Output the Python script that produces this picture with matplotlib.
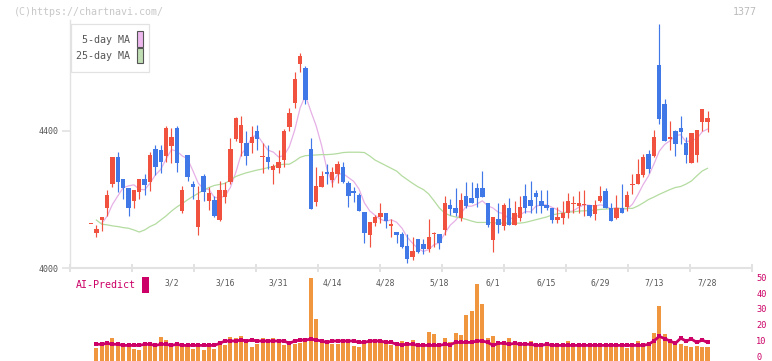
import numpy as np
import pandas as pd
import matplotlib
matplotlib.use("Agg")
import matplotlib.pyplot as plt
from matplotlib.patches import Rectangle
import matplotlib.transforms as mtransforms

plt.rcParams['font.family'] = ['DejaVu Sans Mono']

# ---------------- data ----------------
date_labels = ['3/2', '3/16', '3/31', '4/14', '4/28', '5/18', '6/1', '6/15', '6/29', '7/13', '7/28']
date_label_idx = [15, 25, 35, 45, 55, 65, 75, 85, 95, 105, 115]

opens = [4127, 4103, 4140, 4176, 4246, 4324, 4260, 4234, 4197, 4223,
         4260, 4252, 4347, 4345, 4328, 4356, 4410, 4167, 4330, 4244,
         4119, 4269, 4197, 4199, 4140, 4208, 4252, 4377, 4366, 4366,
         4364, 4401, 4323, 4325, 4286, 4293, 4315, 4413, 4483, 4596,
         4584, 4347, 4194, 4237, 4281, 4257, 4274, 4295, 4247, 4226,
         4213, 4164, 4097, 4132, 4148, 4161, 4124, 4105, 4099, 4064,
         4033, 4085, 4070, 4056, 4098, 4099, 4111, 4183, 4174, 4145,
         4210, 4205, 4233, 4233, 4189, 4082, 4142, 4124, 4174, 4126,
         4145, 4210, 4199, 4218, 4196, 4184, 4176, 4140, 4147, 4160,
         4186, 4182, 4183, 4184, 4158, 4197, 4225, 4176, 4147, 4176,
         4177, 4243, 4244, 4272, 4333, 4327, 4593, 4479, 4378, 4400,
         4410, 4364, 4307, 4330, 4427, 4427]
highs = [4128, 4126, 4149, 4228, 4324, 4339, 4260, 4234, 4228, 4260,
         4274, 4339, 4359, 4359, 4415, 4408, 4415, 4239, 4330, 4254,
         4239, 4274, 4237, 4210, 4254, 4252, 4380, 4441, 4444, 4400,
         4415, 4418, 4364, 4359, 4304, 4345, 4406, 4466, 4571, 4627,
         4590, 4379, 4296, 4283, 4303, 4296, 4312, 4309, 4254, 4237,
         4220, 4164, 4133, 4155, 4189, 4161, 4142, 4105, 4104, 4099,
         4090, 4085, 4085, 4142, 4106, 4099, 4210, 4201, 4233, 4218,
         4252, 4252, 4247, 4283, 4189, 4148, 4191, 4191, 4204, 4196,
         4210, 4245, 4254, 4228, 4228, 4228, 4176, 4177, 4196, 4220,
         4210, 4225, 4228, 4184, 4199, 4239, 4234, 4191, 4213, 4245,
         4226, 4274, 4318, 4333, 4345, 4403, 4712, 4493, 4429, 4403,
         4444, 4383, 4393, 4403, 4464, 4458]
lows = [4127, 4091, 4109, 4152, 4236, 4222, 4202, 4152, 4176, 4202,
        4213, 4225, 4272, 4277, 4309, 4307, 4280, 4160, 4254, 4201,
        4096, 4197, 4169, 4148, 4138, 4189, 4245, 4371, 4328, 4301,
        4337, 4345, 4278, 4288, 4244, 4278, 4294, 4401, 4466, 4571,
        4479, 4173, 4182, 4237, 4245, 4237, 4247, 4247, 4177, 4194,
        4167, 4074, 4062, 4123, 4132, 4118, 4091, 4074, 4058, 4014,
        4023, 4043, 4041, 4048, 4062, 4055, 4096, 4155, 4152, 4137,
        4174, 4189, 4179, 4208, 4121, 4048, 4103, 4111, 4126, 4126,
        4137, 4161, 4160, 4161, 4160, 4169, 4132, 4131, 4128, 4147,
        4161, 4160, 4152, 4148, 4140, 4194, 4176, 4138, 4142, 4161,
        4167, 4216, 4244, 4267, 4278, 4323, 4420, 4372, 4345, 4328,
        4362, 4307, 4307, 4310, 4401, 4398]
closes = [4128, 4114, 4149, 4213, 4324, 4252, 4234, 4176, 4228, 4260,
          4243, 4330, 4296, 4310, 4410, 4382, 4307, 4228, 4267, 4237,
          4199, 4223, 4220, 4153, 4228, 4228, 4347, 4437, 4418, 4327,
          4382, 4378, 4324, 4310, 4298, 4310, 4401, 4453, 4552, 4620,
          4491, 4173, 4239, 4269, 4274, 4281, 4303, 4252, 4211, 4218,
          4167, 4103, 4133, 4148, 4160, 4138, 4125, 4097, 4062, 4026,
          4050, 4048, 4055, 4090, 4099, 4074, 4189, 4172, 4161, 4199,
          4181, 4189, 4204, 4208, 4126, 4148, 4126, 4184, 4126, 4160,
          4177, 4176, 4181, 4208, 4182, 4174, 4140, 4148, 4161, 4196,
          4191, 4191, 4184, 4153, 4184, 4210, 4176, 4138, 4174, 4161,
          4213, 4245, 4274, 4325, 4288, 4383, 4435, 4372, 4379, 4362,
          4398, 4330, 4393, 4403, 4464, 4437]
ma25 = [None, 4140, 4128, 4126, 4123, 4121, 4118, 4116, 4111, 4105,
        4111, 4121, 4128, 4140, 4152, 4166, 4178, 4188, 4199, 4209,
        4218, 4228, 4235, 4241, 4244, 4247, 4257, 4267, 4273, 4278,
        4282, 4286, 4289, 4293, 4296, 4301, 4303, 4303, 4312, 4323,
        4328, 4329, 4330, 4331, 4331, 4332, 4334, 4337, 4338, 4338,
        4338, 4337, 4327, 4315, 4307, 4299, 4291, 4283, 4269, 4258,
        4247, 4237, 4229, 4216, 4196, 4175, 4160, 4153, 4149, 4146,
        4142, 4137, 4133, 4133, 4133, 4132, 4131, 4131, 4131, 4131,
        4131, 4133, 4137, 4141, 4145, 4149, 4155, 4158, 4161, 4163,
        4164, 4166, 4167, 4168, 4169, 4171, 4172, 4173, 4174, 4174,
        4174, 4174, 4181, 4190, 4200, 4207, 4215, 4222, 4229, 4235,
        4238, 4245, 4254, 4269, 4283, 4291]
volume = [None, 5.2, 6.4, 9.8, 11.7, 7.3, 6.4, 6.4, 4.7, 4.1,
          6.9, 6.9, 5.6, 12.3, 10.4, 5.6, 7.3, 6.9, 6.9, 4.7,
          5.6, 3.7, 6.4, 4.7, 7.9, 6.9, 12.3, 11.5, 13.0, 8.5,
          5.6, 7.9, 11.7, 8.5, 11.7, 8.5, 6.9, 7.3, 7.9, 8.5,
          11.7, 49.7, 23.7, 9.8, 7.7, 7.7, 7.7, 8.5, 9.8, 6.4,
          6.0, 7.9, 9.8, 9.8, 9.0, 8.5, 7.3, 6.4, 9.8, 9.0,
          10.4, 5.6, 7.3, 15.5, 14.2, 7.3, 11.7, 9.0, 14.9, 13.6,
          26.3, 28.8, 45.9, 33.2, 11.7, 13.0, 7.3, 7.3, 11.7, 9.0,
          7.3, 7.3, 9.8, 7.3, 7.3, 7.3, 7.3, 7.3, 7.3, 9.8,
          5.6, 7.3, 7.3, 7.3, 7.3, 7.3, 7.3, 7.3, 5.6, 5.6,
          5.2, 8.5, 9.8, 7.3, 8.5, 14.9, 32.0, 14.2, 8.5, 7.3,
          7.9, 6.4, 6.0, 6.4, 6.0, 5.6]
ai_predict = [None, 7.6, 7.6, 8.2, 7.6, 7.6, 6.9, 6.9, 6.9, 6.9,
              7.6, 7.6, 6.9, 7.6, 7.6, 6.9, 7.6, 6.9, 6.9, 6.9,
              6.9, 6.9, 6.9, 6.9, 8.2, 9.7, 9.7, 9.7, 10.3, 9.7,
              10.3, 9.7, 9.7, 9.7, 9.7, 9.7, 9.7, 8.2, 9.7, 10.3,
              10.3, 10.9, 10.3, 9.7, 8.8, 9.7, 9.7, 9.7, 9.7, 9.7,
              8.8, 8.8, 9.7, 9.7, 9.7, 8.8, 8.8, 7.6, 7.3, 7.6,
              7.6, 6.9, 6.9, 6.9, 6.9, 6.9, 7.6, 7.3, 8.8, 8.8,
              8.8, 8.8, 9.7, 9.7, 8.8, 6.9, 8.2, 8.2, 7.6, 8.2,
              7.6, 7.6, 7.6, 6.9, 6.9, 7.6, 6.9, 6.9, 6.9, 6.9,
              6.9, 6.9, 6.9, 6.9, 6.9, 6.9, 6.9, 6.9, 6.9, 6.9,
              6.9, 6.9, 6.9, 6.9, 7.6, 9.7, 12.6, 11.2, 9.7, 8.2,
              11.4, 9.7, 10.9, 8.8, 10.3, 8.8]

# ---------------- style ----------------
RED = '#F0523F'
BLUE = '#4178E8'
PINK = '#E6B0E6'
GREEN = '#B4DCA0'
ORANGE = '#F0963F'
CRIMSON = '#CC0066'
AXIS_GRAY = '#E2E2E2'
TEXT_GRAY = '#555555'

W, H = 772, 361
fig = plt.figure(figsize=(W / 100, H / 100), dpi=100)


def fx(px):
    return px / W


def fy(py):
    return 1 - py / H


X0, X1 = -3.92, 123.3

# ---------------- main price panel ----------------
ax = fig.add_axes([fx(70), fy(268), fx(752) - fx(70), fy(20) - fy(268)])
ax.set_xlim(X0, X1)
ax.set_ylim(4000, 4724)

o = np.array(opens, float)
c = np.array(closes, float)
h = np.array(highs, float)
l = np.array(lows, float)
x = np.arange(len(o))

ma5 = pd.Series(c).rolling(5, min_periods=1).mean().to_numpy()
ax.plot(x[2:], ma5[2:], color=PINK, lw=0.9, zorder=1)
ax.plot(x, np.array(ma25, dtype=float), color=GREEN, lw=0.9, zorder=1)

cols = np.where(c >= o, RED, BLUE)
ax.vlines(x, l, h, colors=cols, lw=0.85, zorder=2)
body_bottom = np.minimum(o, c)
body_h = np.maximum(np.abs(c - o), 3.0)
ax.bar(x, body_h, bottom=body_bottom, width=0.82, color=cols, linewidth=0, zorder=3)

for s in ['top', 'right']:
    ax.spines[s].set_visible(False)
ax.spines['left'].set_color(AXIS_GRAY)
ax.spines['left'].set_linewidth(1.0)
ax.spines['bottom'].set_color(AXIS_GRAY)
ax.spines['bottom'].set_linewidth(1.5)

ax.set_xticks(np.linspace(X0, X1, 12))
ax.set_xticklabels([])
ax.tick_params(axis='x', direction='inout', length=6, width=1.4, color=AXIS_GRAY)
ax.set_yticks([4000, 4400])
ax.set_yticklabels(['4000', '4400'])
ax.tick_params(axis='y', direction='out', length=6, width=1.2, color=AXIS_GRAY,
               labelsize=6, labelcolor=TEXT_GRAY, pad=2)

trans = mtransforms.blended_transform_factory(ax.transData, fig.transFigure)
for pos, lab in zip(date_label_idx, date_labels):
    ax.text(pos, fy(282.5), lab, transform=trans, ha='center', va='center',
            fontsize=5.8, color=TEXT_GRAY, clip_on=False)

# ---------------- lower panel (volume + AI-Predict) ----------------
zero_px = 356.3
v0 = -(361 - zero_px) / 1.58
v1 = (zero_px - 272) / 1.58
ax2 = fig.add_axes([fx(70), 0, fx(752) - fx(70), fy(272)])
ax2.set_xlim(X0, X1)
ax2.set_ylim(v0, v1)
vol = np.array(volume, dtype=float)
ax2.bar(x, vol - v0, bottom=v0, width=0.75, color=ORANGE, linewidth=0, zorder=1)
ax2.plot(x, np.array(ai_predict, dtype=float), color=CRIMSON, lw=2.0,
         marker='s', ms=2.6, markeredgewidth=0, zorder=2)
for s in ax2.spines.values():
    s.set_visible(False)
ax2.set_xticks([])
ax2.yaxis.tick_right()
ax2.set_yticks([0, 10, 20, 30, 40, 50])
ax2.tick_params(axis='y', length=0, labelsize=6.2, labelcolor=CRIMSON, pad=3)
ax2.patch.set_alpha(0)

fig.text(fx(76), fy(285), 'AI-Predict', color=CRIMSON, fontsize=7.2,
         ha='left', va='center')
fig.add_artist(Rectangle((fx(142), fy(293)), fx(7), (293 - 277) / H,
                         transform=fig.transFigure, facecolor=CRIMSON, edgecolor='none'))

# ---------------- legend box ----------------
fig.add_artist(Rectangle((fx(70.5), fy(71.5)), fx(78), (71.5 - 24) / H,
                         transform=fig.transFigure, facecolor='white',
                         edgecolor=AXIS_GRAY, lw=0.9, zorder=5))
fig.text(fx(130), fy(40), '5-day MA', ha='right', va='center', fontsize=7.2,
         color=TEXT_GRAY, zorder=6)
fig.text(fx(130), fy(56), '25-day MA', ha='right', va='center', fontsize=7.2,
         color=TEXT_GRAY, zorder=6)
fig.add_artist(Rectangle((fx(136.5), fy(46.5)), fx(6), 15 / H,
                         transform=fig.transFigure, facecolor='#EDB8ED',
                         edgecolor='#555555', lw=0.8, zorder=6))
fig.add_artist(Rectangle((fx(136.5), fy(63)), fx(6), 15 / H,
                         transform=fig.transFigure, facecolor='#C0DEB4',
                         edgecolor='#555555', lw=0.8, zorder=6))

# ---------------- header texts ----------------
fig.text(fx(14), fy(12), '(C)https://chartnavi.com/', ha='left', va='center',
         fontsize=7.2, color='#C8C8C8')
fig.text(fx(757), fy(12), '1377', ha='right', va='center', fontsize=7.2,
         color='#BBBBBB')

fig.savefig('out.png', dpi=100)
